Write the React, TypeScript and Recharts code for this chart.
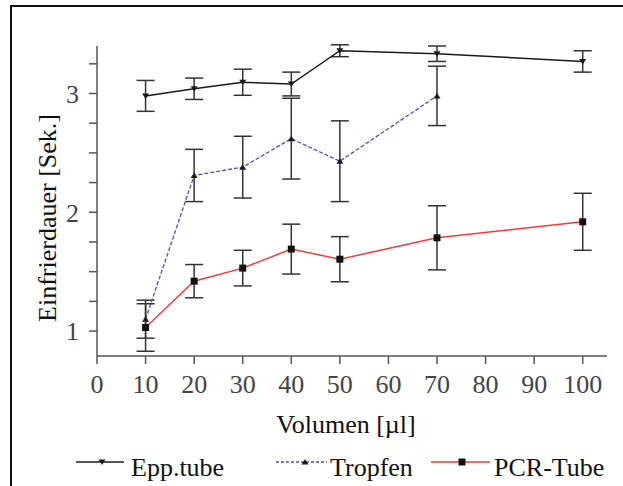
import React from "react";
import { LineChart, Line, XAxis, YAxis, ErrorBar } from "recharts";

const volumes = [10, 20, 30, 40, 50, 70, 100];
const eppMean = [2.98, 3.04, 3.095, 3.08, 3.36, 3.335, 3.27];
const eppErr = [0.13, 0.09, 0.11, 0.1, 0.05, 0.065, 0.09];

const tropfenVolumes = [10, 20, 30, 40, 50, 70];
const tropfenMean = [1.1, 2.31, 2.38, 2.62, 2.43, 2.98];
const tropfenErr = [0.16, 0.22, 0.26, 0.34, 0.34, 0.25];

const pcrMean = [1.03, 1.42, 1.53, 1.69, 1.605, 1.785, 1.92];
const pcrErr = [0.2, 0.14, 0.15, 0.21, 0.19, 0.27, 0.24];

const xTicks = [0, 10, 20, 30, 40, 50, 60, 70, 80, 90, 100];
const yTicks = [1, 1.25, 1.5, 1.75, 2, 2.25, 2.5, 2.75, 3, 3.25];

const FONT = "Liberation Serif, Times New Roman, DejaVu Serif, serif";
const textStyle = { fontFamily: FONT };

const toRows = (xs: number[], ys: number[], es: number[]) =>
  xs.map((x, i) => ({ vol: x, value: ys[i], err: es[i] }));

const eppData = toRows(volumes, eppMean, eppErr);
const tropfenData = toRows(tropfenVolumes, tropfenMean, tropfenErr);
const pcrData = toRows(volumes, pcrMean, pcrErr);

const downTri = (cx: number, cy: number) =>
  `M${cx - 3.5},${cy - 2.5} L${cx + 3.5},${cy - 2.5} L${cx},${cy + 3} Z`;
const upTri = (cx: number, cy: number) =>
  `M${cx - 3.5},${cy + 2.5} L${cx + 3.5},${cy + 2.5} L${cx},${cy - 3} Z`;

const EppDot = (p: any) =>
  p.cx == null ? null : <path key={p.index} d={downTri(p.cx, p.cy)} fill="#1a1a1a" />;
const TropfenDot = (p: any) =>
  p.cx == null ? null : <path key={p.index} d={upTri(p.cx, p.cy)} fill="#1a1a1a" />;
const PcrDot = (p: any) =>
  p.cx == null ? null : (
    <rect key={p.index} x={p.cx - 3.5} y={p.cy - 3.5} width={7} height={7} fill="#111" />
  );

const XTitle = () => (
  <text x={346} y={433} textAnchor="middle" style={textStyle} fontSize={26} fill="#111">
    Volumen [µl]
  </text>
);

const YTitle = () => (
  <text
    x={56}
    y={218}
    transform="rotate(-90 56 218)"
    textAnchor="middle"
    style={textStyle}
    fontSize={26}
    fill="#111"
  >
    Einfrierdauer [Sek.]
  </text>
);

const legendItems = [
  { name: "Epp.tube", x1: 76, x2: 124, mx: 102, tx: 131, color: "#1a1a1a", dash: undefined, marker: "down" },
  { name: "Tropfen", x1: 276, x2: 327, mx: 305, tx: 330, color: "#4a55b5", dash: "3 2", marker: "up" },
  { name: "PCR-Tube", x1: 431, x2: 490, mx: 462, tx: 494, color: "#e8403c", dash: undefined, marker: "square" },
];

function LegendOverlay() {
  const ly = 462;
  return (
    <svg width={623} height={486} style={{ position: "absolute", left: 0, top: 0, pointerEvents: "none" }}>
      {legendItems.map((it) => (
        <g key={it.name}>
          <line x1={it.x1} x2={it.x2} y1={ly} y2={ly} stroke={it.color} strokeWidth={1.5} strokeDasharray={it.dash} />
          {it.marker === "down" && <path d={downTri(it.mx, ly)} fill="#1a1a1a" />}
          {it.marker === "up" && <path d={upTri(it.mx, ly)} fill="#1a1a1a" />}
          {it.marker === "square" && <rect x={it.mx - 3.5} y={ly - 3.5} width={7} height={7} fill="#111" />}
          <text x={it.tx} y={476} style={textStyle} fontSize={26} fill="#111">
            {it.name}
          </text>
        </g>
      ))}
    </svg>
  );
}

export default function App() {
  const axisStyle = { stroke: "#555", strokeWidth: 1.5 };
  const tickStyle = { fontFamily: FONT, fontSize: 26, fill: "#444", style: textStyle };
  return (
    <div
      style={{
        position: "absolute",
        left: 0,
        top: 0,
        width: 623,
        height: 486,
        overflow: "hidden",
        background: "#fff",
        fontFamily: FONT,
      }}
    >
      <div
        style={{
          position: "absolute",
          left: 10,
          top: 5,
          width: 613,
          height: 481,
          borderLeft: "2px solid #111",
          borderTop: "2px solid #111",
          boxSizing: "border-box",
        }}
      />
      <LineChart
        width={623}
        height={486}
        margin={{ top: 46, right: 16, left: 37, bottom: 90 }}
        style={textStyle}
      >
        <XAxis
          dataKey="vol"
          type="number"
          domain={[0, 105]}
          allowDataOverflow
          ticks={xTicks}
          tickSize={8}
          tickMargin={11}
          height={40}
          axisLine={axisStyle}
          tickLine={axisStyle}
          tick={tickStyle}
          label={{ content: () => <XTitle /> }}
        />
        <YAxis
          type="number"
          domain={[0.79, 3.4]}
          allowDataOverflow
          ticks={yTicks}
          tickFormatter={(v: number) => (Number.isInteger(v) ? String(v) : "")}
          tickSize={8}
          tickMargin={10}
          width={60}
          axisLine={axisStyle}
          tickLine={axisStyle}
          tick={tickStyle}
          label={{ content: () => <YTitle /> }}
        />
        <Line
          data={eppData}
          dataKey="value"
          stroke="#1a1a1a"
          strokeWidth={1.5}
          dot={EppDot}
          activeDot={false}
          isAnimationActive={false}
        >
          <ErrorBar dataKey="err" width={9} stroke="#333" strokeWidth={1.5} direction="y" isAnimationActive={false} />
        </Line>
        <Line
          data={tropfenData}
          dataKey="value"
          stroke="#4a55b5"
          strokeWidth={1.3}
          strokeDasharray="4 2"
          dot={TropfenDot}
          activeDot={false}
          isAnimationActive={false}
        >
          <ErrorBar dataKey="err" width={9} stroke="#333" strokeWidth={1.5} direction="y" isAnimationActive={false} />
        </Line>
        <Line
          data={pcrData}
          dataKey="value"
          stroke="#e8403c"
          strokeWidth={1.5}
          dot={PcrDot}
          activeDot={false}
          isAnimationActive={false}
        >
          <ErrorBar dataKey="err" width={9} stroke="#333" strokeWidth={1.5} direction="y" isAnimationActive={false} />
        </Line>
      </LineChart>
      <LegendOverlay />
    </div>
  );
}
